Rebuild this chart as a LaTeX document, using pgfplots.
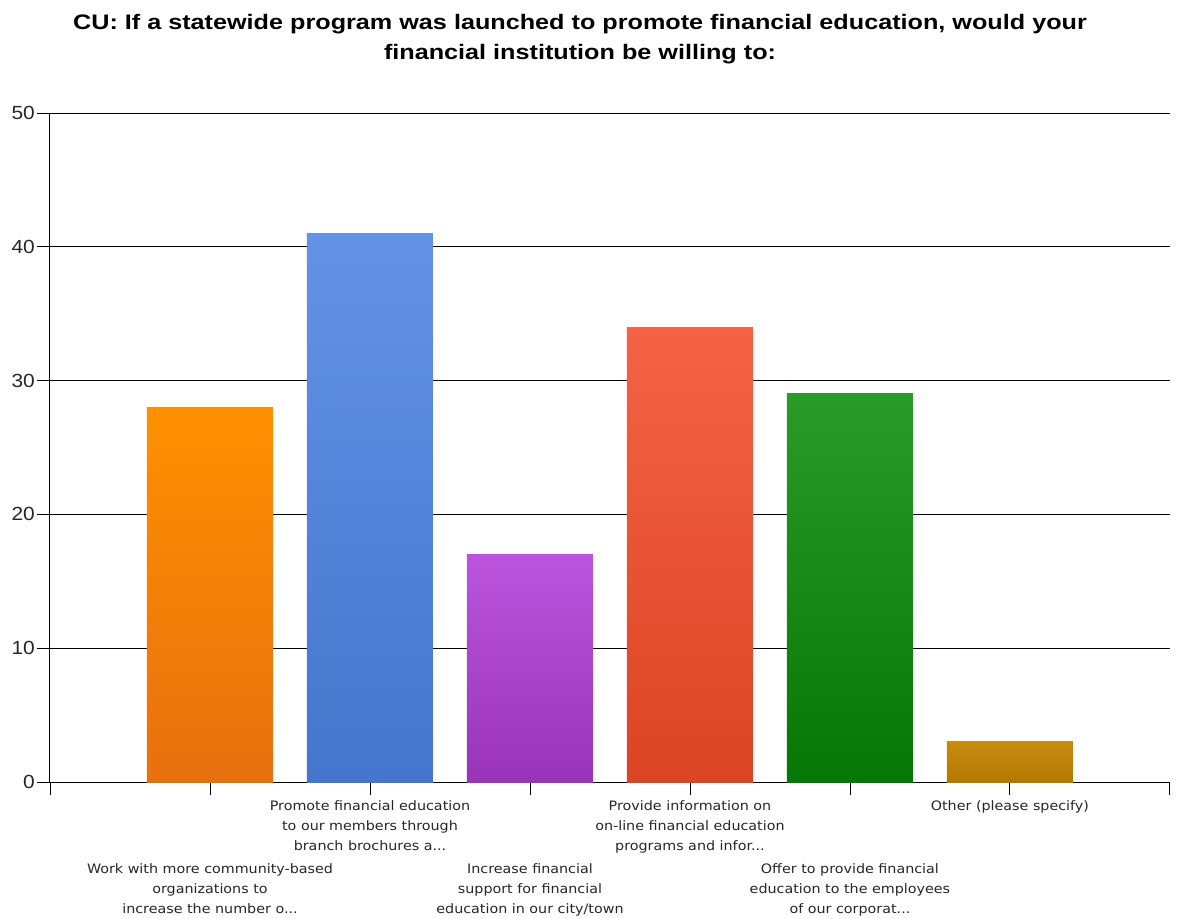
\documentclass[border=0pt]{standalone}
\usepackage{pgfplots}
\pgfplotsset{compat=1.18}
\usepackage{fontspec}
\setmainfont{Liberation Sans}
\newfontfamily\lblfont[FakeStretch=1.1]{DejaVu Sans}
\newfontfamily\titlefont[FakeStretch=1.2]{Liberation Sans}
\newfontfamily\tickfont[FakeStretch=1.1]{Liberation Sans}
\definecolor{orT}{HTML}{FF9000}\definecolor{orB}{HTML}{E8700F}
\definecolor{blT}{HTML}{6492E6}\definecolor{blB}{HTML}{4376CC}
\definecolor{puT}{HTML}{BB55DD}\definecolor{puB}{HTML}{9933B8}
\definecolor{reT}{HTML}{F46346}\definecolor{reB}{HTML}{DB4424}
\definecolor{grT}{HTML}{2A9A2A}\definecolor{grB}{HTML}{067606}
\definecolor{goT}{HTML}{C68C12}\definecolor{goB}{HTML}{B27800}
\tikzset{lbl/.style={anchor=north, align=center, text=black!85, font=\lblfont\fontsize{13}{20}\selectfont}}
\begin{document}
\begin{tikzpicture}[x=1pt,y=1pt]
\useasboundingbox (0pt,0pt) rectangle (1177pt,918pt);
\node[font=\titlefont\bfseries\fontsize{21}{30}\selectfont, align=center] at (580pt,879pt)
 {CU: If a statewide program was launched to promote financial education, would your\\financial institution be willing to:};
\begin{axis}[
 at={(50pt,136pt)}, anchor=south west,
 scale only axis, width=1120pt, height=669pt,
 xmin=0, xmax=7, ymin=0, ymax=50,
 axis x line*=bottom, axis y line*=left,
 axis line style={-, black, line width=1pt},
 xtick={0,...,7}, xticklabels={},
 ytick={0,10,...,50},
 ymajorgrids, grid style={black, line width=0.9pt},
 tick style={black, line width=0.9pt},
 major tick length=13pt,
 tick align=outside,
 yticklabel style={font=\tickfont\fontsize{19}{22}\selectfont, text=black!85, inner sep=2pt},
 /pgf/number format/assume math mode=true,
 clip=false,
]
\addplot[ybar, bar width=126pt, bar shift=0pt, draw=none, top color=orT, bottom color=orB] coordinates {(1,28)};
\addplot[ybar, bar width=126pt, bar shift=0pt, draw=none, top color=blT, bottom color=blB] coordinates {(2,41)};
\addplot[ybar, bar width=126pt, bar shift=0pt, draw=none, top color=puT, bottom color=puB] coordinates {(3,17)};
\addplot[ybar, bar width=126pt, bar shift=0pt, draw=none, top color=reT, bottom color=reB] coordinates {(4,34)};
\addplot[ybar, bar width=126pt, bar shift=0pt, draw=none, top color=grT, bottom color=grB] coordinates {(5,29)};
\addplot[ybar, bar width=126pt, bar shift=0pt, draw=none, top color=goT, bottom color=goB] coordinates {(6,3)};
\node[lbl] at (axis cs:1,0) [yshift=-78pt] {Work with more community-based\\organizations to\\increase the number o...};
\node[lbl] at (axis cs:2,0) [yshift=-15pt] {Promote financial education\\to our members through\\branch brochures a...};
\node[lbl] at (axis cs:3,0) [yshift=-78pt] {Increase financial\\support for financial\\education in our city/town};
\node[lbl] at (axis cs:4,0) [yshift=-15pt] {Provide information on\\on-line financial education\\programs and infor...};
\node[lbl] at (axis cs:5,0) [yshift=-78pt] {Offer to provide financial\\education to the employees\\of our corporat...};
\node[lbl] at (axis cs:6,0) [yshift=-15pt] {Other (please specify)};
\end{axis}
\end{tikzpicture}
\end{document}
